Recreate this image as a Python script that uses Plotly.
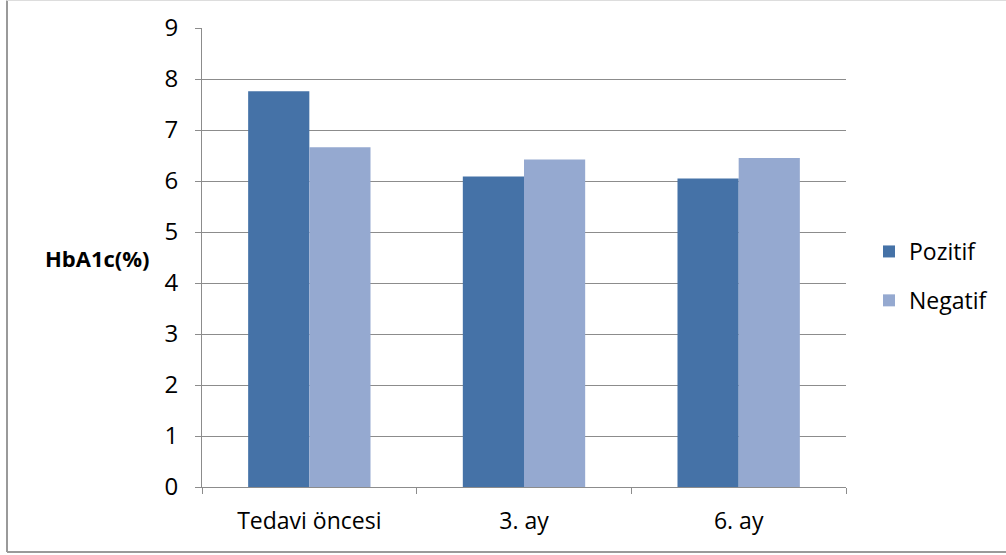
import plotly.graph_objects as go

categories = ["Tedavi öncesi", "3. ay", "6. ay"]
pozitif = [7.76, 6.09, 6.05]
negatif = [6.66, 6.42, 6.45]
y_ticks = [0, 1, 2, 3, 4, 5, 6, 7, 8, 9]

W, H = 1006, 555
L, R, T, B = 202, 160, 28, 68
pw, ph = W - L - R, H - T - B


def px(x):
    return (x - L) / pw


def py(y):
    return (H - B - y) / ph


FONT = "Open Sans"
GRID = "#8c8c8c"

fig = go.Figure()
fig.add_trace(go.Bar(name="Pozitif", x=categories, y=pozitif,
                     marker=dict(color="#4572A7", line=dict(width=0)),
                     legendgroup="a"))
fig.add_trace(go.Bar(name="Negatif", x=categories, y=negatif,
                     marker=dict(color="#95A9D0", line=dict(width=0)),
                     legendgroup="b"))

fig.update_layout(
    width=W, height=H,
    margin=dict(l=L, r=R, t=T, b=B, pad=0, autoexpand=False),
    paper_bgcolor="white", plot_bgcolor="white",
    barmode="group", bargap=0.43, bargroupgap=0,
    font=dict(family=FONT, size=23, color="#000000"),
    showlegend=True,
    legend=dict(x=px(869), y=py(230), xanchor="left", yanchor="top",
                traceorder="grouped", tracegroupgap=16,
                font=dict(family=FONT, size=23),
                itemwidth=30, bgcolor="rgba(0,0,0,0)"),
    xaxis=dict(showline=True, linecolor=GRID, linewidth=1,
               ticks="outside", tickson="boundaries", ticklen=6,
               tickcolor=GRID, showgrid=False, automargin=False,
               ticklabelstandoff=13,
               tickfont=dict(family=FONT, size=23)),
    yaxis=dict(range=[0, 9], tickvals=y_ticks, showline=True,
               linecolor=GRID, linewidth=1, ticks="outside", ticklen=6,
               tickcolor=GRID, showgrid=True, gridcolor=GRID, gridwidth=1,
               zeroline=False, ticklabelstandoff=12, automargin=False,
               tickfont=dict(family=FONT, size=24)),
    annotations=[dict(text="<b>HbA1c(%)</b>", x=px(97), y=py(258),
                      xref="paper", yref="paper", showarrow=False,
                      xanchor="center", yanchor="middle",
                      font=dict(family=FONT, size=22))],
    shapes=[
        dict(type="line", xref="paper", yref="paper",
             x0=px(7), x1=px(7), y0=py(0.5), y1=py(552),
             line=dict(color="#9a9a9a", width=2)),
        dict(type="line", xref="paper", yref="paper",
             x0=px(7), x1=px(1010), y0=py(552), y1=py(552),
             line=dict(color="#9a9a9a", width=2)),
        dict(type="line", xref="paper", yref="paper",
             x0=px(7), x1=px(1010), y0=py(0.5), y1=py(0.5),
             line=dict(color="#dddddd", width=1)),
    ],
)

fig.write_html("out.html")
